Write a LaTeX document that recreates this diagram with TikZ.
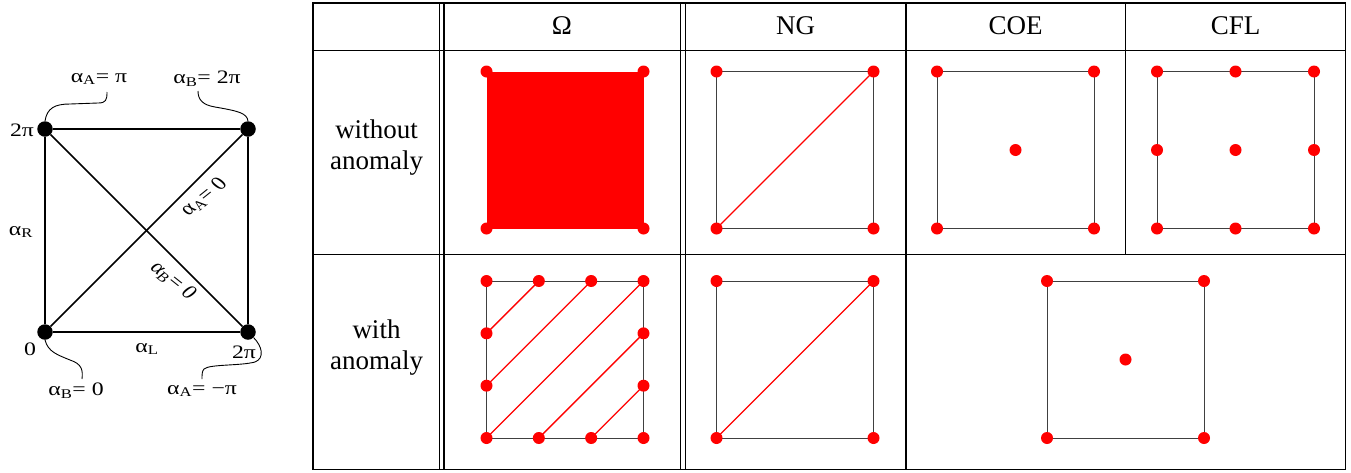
\documentclass[tikz,border=0pt]{standalone}
\usepackage{fontspec}
\setmainfont{Liberation Serif}
\begin{document}
\begin{tikzpicture}[x=1pt,y=-1pt,
  tline/.style={line width=1.2pt},
  sq/.style={draw=black!75, line width=0.9pt},
  rl/.style={red, line width=1.3pt},
  bdot/.style={circle, fill=black, inner sep=0pt, minimum size=15.5pt},
  edgeline/.style={line width=1.5pt},
  wig/.style={line width=0.9pt},
  tab/.style={font=\fontsize{27}{31}\selectfont, align=center, inner sep=0pt},
  lab/.style={font=\fontsize{19}{22}\selectfont, xscale=1.25, inner sep=0pt},
]
\useasboundingbox (0,0) rectangle (1351,472);
\def\rr{6}
\def\s{157}
\def\t{52.333}
% ---------------- table frame
\draw[tline] (313,3) rectangle (1345.5,469.5);
\draw[tline] (313,50.5) -- (1345.5,50.5);
\draw[tline] (313,254.5) -- (1345.5,254.5);
\draw[tline] (439.5,3) -- (439.5,469.5);
\draw[tline] (444,3) -- (444,469.5);
\draw[tline] (680.5,3) -- (680.5,469.5);
\draw[tline] (685.5,3) -- (685.5,469.5);
\draw[tline] (906,3) -- (906,469.5);
\draw[tline] (1125.5,3) -- (1125.5,254.5);
% headers
\node[tab] (hO) at (562,26) {Ω};
\node[tab] (hNG) at (795.7,26) {NG};
\node[tab] (hCOE) at (1015.7,26) {COE};
\node[tab] (hCFL) at (1235.5,26) {CFL};
\node[tab] (r1) at (376.5,148) {without\\anomaly};
\node[tab] (r2) at (376.5,348) {with\\anomaly};
% ---------------- Omega, without anomaly
\begin{scope}[shift={(486.5,71.5)}]
  \fill[red] (0,0) rectangle (\s,\s);
  \foreach \p in {(0,0),(\s,0),(0,\s),(\s,\s)} \fill[red] \p circle (\rr);
\end{scope}
% ---------------- Omega, with anomaly
\begin{scope}[shift={(486.5,281)}]
  \draw[sq] (0,0) rectangle (\s,\s);
  \draw[rl] (0,\t) -- (\t,0);
  \draw[rl] (0,2*\t) -- (2*\t,0);
  \draw[rl] (0,3*\t) -- (3*\t,0);
  \draw[rl] (\t,3*\t) -- (3*\t,\t);
  \draw[rl] (2*\t,3*\t) -- (3*\t,2*\t);
  \foreach \i in {0,1,2,3} {
    \fill[red] (\i*\t,0) circle (\rr);
    \fill[red] (\i*\t,\s) circle (\rr);
  }
  \foreach \i in {1,2} {
    \fill[red] (0,\i*\t) circle (\rr);
    \fill[red] (\s,\i*\t) circle (\rr);
  }
\end{scope}
% ---------------- NG
\foreach \yy in {71.5,281} {
\begin{scope}[shift={(716.5,\yy)}]
  \draw[sq] (0,0) rectangle (\s,\s);
  \draw[rl] (0,\s) -- (\s,0);
  \foreach \p in {(0,0),(\s,0),(0,\s),(\s,\s)} \fill[red] \p circle (\rr);
\end{scope}
}
% ---------------- COE without anomaly
\begin{scope}[shift={(937,71.5)}]
  \draw[sq] (0,0) rectangle (\s,\s);
  \foreach \p in {(0,0),(\s,0),(0,\s),(\s,\s),(78.5,78.5)} \fill[red] \p circle (\rr);
\end{scope}
% ---------------- CFL without anomaly
\begin{scope}[shift={(1157,71.5)}]
  \draw[sq] (0,0) rectangle (\s,\s);
  \foreach \i in {0,78.5,157} \foreach \j in {0,78.5,157} \fill[red] (\i,\j) circle (\rr);
\end{scope}
% ---------------- COE=CFL with anomaly
\begin{scope}[shift={(1047,281)}]
  \draw[sq] (0,0) rectangle (\s,\s);
  \foreach \p in {(0,0),(\s,0),(0,\s),(\s,\s),(78.5,78.5)} \fill[red] \p circle (\rr);
\end{scope}
% ---------------- left diagram
\node[bdot] (tl) at (45,129) {};
\node[bdot] (tr) at (248,129) {};
\node[bdot] (bl) at (45,332) {};
\node[bdot] (br) at (248,332) {};
\draw[edgeline] (tl) -- (tr) -- (br) -- (bl) -- (tl);
\draw[edgeline] (tl) -- (br);
\draw[edgeline] (bl) -- (tr);
\node[lab] (ltl) at (22,130) {2π};
\node[lab] (lR) at (21,232) {α\textsubscript{R}};
\node[lab] (lbl) at (30,349) {0};
\node[lab] (lL) at (147,349) {α\textsubscript{L}};
\node[lab] (lbr) at (244,352) {2π};
\node[lab] (lApi) at (99,79) {α\textsubscript{A}= π};
\node[lab] (lB2pi) at (207,79) {α\textsubscript{B}= 2π};
\node[lab] (lB0) at (76,391) {α\textsubscript{B}= 0};
\node[lab] (lAmpi) at (202,391) {α\textsubscript{A}= −π};
\node[lab, rotate=45] (lA0) at (204,197) {α\textsubscript{A}= 0};
\node[lab, rotate=-45] (lBd0) at (173,281) {α\textsubscript{B}= 0};
\coordinate (cApi) at (107,92);
\coordinate (cB2pi) at (198,91);
\coordinate (cB0) at (82,379);
\coordinate (cAmpi) at (202,379);
\draw[wig] (tl.north) .. controls (47,108) and (55,104) .. (70,104) -- (98,103) .. controls (106,103) and (107,100) .. (cApi);
\draw[wig] (tr.north) .. controls (247,113) and (238,111) .. (215,107) .. controls (203,105) and (198,100) .. (cB2pi);
\draw[wig] (bl.south) .. controls (48,352) and (58,355) .. (70,360) .. controls (82,364) and (83,370) .. (cB0);
\draw[wig] (br.south east) .. controls (262,346) and (265,358) .. (255,362) .. controls (240,366) and (210,364) .. (204,369) .. controls (202,371) and (202,375) .. (cAmpi);
\end{tikzpicture}
\end{document}
